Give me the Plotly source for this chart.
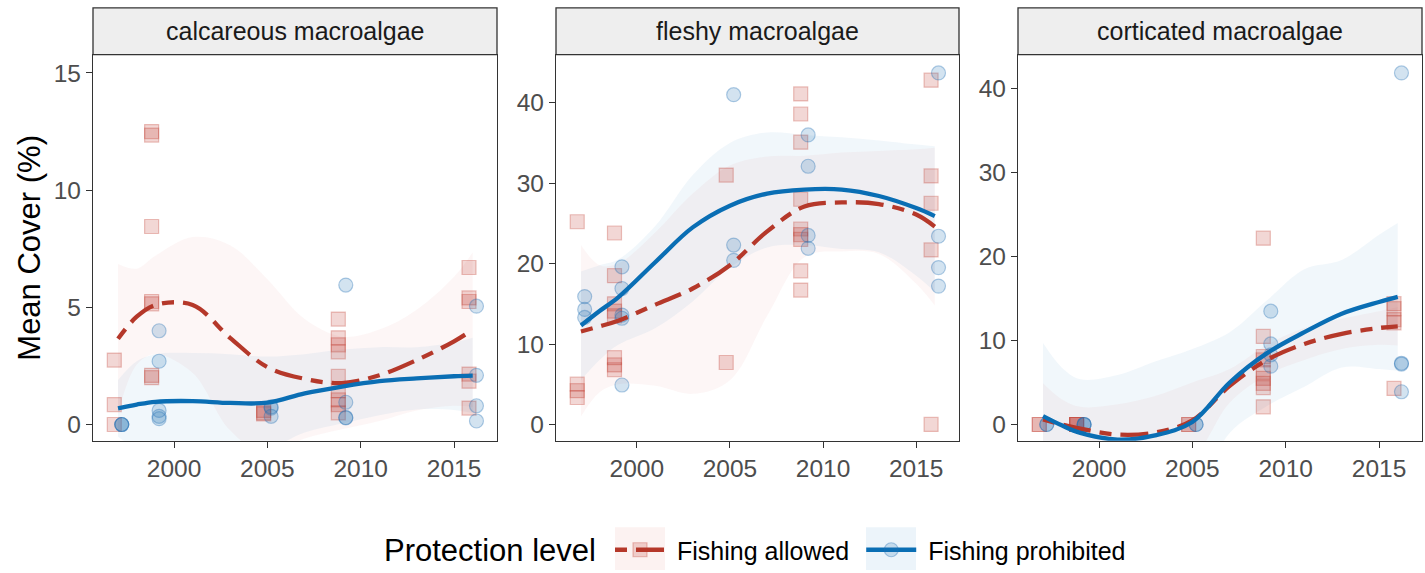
import plotly.graph_objects as go
from plotly.subplots import make_subplots

# panels and groups
panel_titles = ["calcareous macroalgae", "fleshy macroalgae", "corticated macroalgae"]
groups = ["Fishing allowed", "Fishing prohibited"]
survey_years = [1997, 1999, 2005, 2009, 2016]
fit_years = [1997, 1998, 1999, 2001, 2003, 2005, 2007, 2009, 2011, 2013, 2015, 2016]

# site-level mean cover (%), one list per survey year
calc_allowed = [[2.75, 0.85, 0.0], [12.5, 12.35, 8.45, 5.25, 5.15, 2.1, 2.0], [0.6, 0.5, 0.45],
                [4.5, 3.7, 3.4, 3.1, 2.05, 1.45, 1.05, 0.85, 0.5], [6.7, 5.4, 5.25, 2.15, 1.85, 0.7]]
calc_prohib = [[0.0, 0.0, 0.0], [4.0, 2.7, 0.6, 0.35, 0.25], [0.75, 0.7, 0.35],
               [5.95, 0.95, 0.3, 0.28], [5.05, 2.1, 0.8, 0.15]]
fleshy_allowed = [[25.2, 5.0, 4.2, 3.35], [23.8, 18.5, 15.0, 14.1, 13.5, 8.3, 7.4, 6.8], [31.0, 7.7],
                  [41.1, 38.6, 35.1, 28.0, 24.3, 23.6, 23.0, 19.1, 16.7], [42.8, 30.9, 27.5, 21.7, 0.0]]
fleshy_prohib = [[15.9, 14.3, 13.3], [19.6, 16.9, 13.6, 13.2, 4.9], [41.0, 22.3, 20.4],
                 [36.0, 32.1, 23.5, 21.9], [43.7, 23.4, 19.5, 17.2]]
cort_allowed = [[0.0, 0.0], [0.0, 0.0, 0.0, 0.0], [0.0, 0.0],
                [22.2, 10.5, 8.1, 7.7, 6.2, 5.5, 4.9, 4.4, 2.1], [14.4, 13.8, 12.5, 12.1, 4.3]]
cort_prohib = [[0.0, 0.0], [0.0, 0.0, 0.0], [0.0, 0.0],
               [13.5, 9.6, 8.3, 6.95], [41.9, 7.3, 7.2, 3.9]]

# smoothed fits with confidence band, read at fit_years
calc_allowed_fit = [3.66, 4.6, 5.1, 5.1, 3.7, 2.45, 1.95, 1.77, 2.1, 2.75, 3.55, 4.05]
calc_allowed_lo = [0.47, 2.55, 3.0, 2.2, -0.25, -1.3, -0.6, -0.2, 0.15, 0.6, 0.8, 0.75]
calc_allowed_hi = [6.85, 6.65, 7.2, 8.0, 7.65, 6.2, 4.5, 3.75, 4.05, 4.9, 6.3, 7.35]
calc_prohib_fit = [0.69, 0.85, 0.97, 1.0, 0.92, 0.93, 1.33, 1.62, 1.85, 1.97, 2.06, 2.09]
calc_prohib_lo = [-0.52, -1.0, -1.06, -1.05, -1.16, -1.04, -0.34, 0.04, 0.4, 0.64, 0.62, 0.48]
calc_prohib_hi = [1.9, 2.7, 3.0, 3.05, 3.0, 2.9, 3.0, 3.2, 3.3, 3.3, 3.5, 3.7]

fleshy_allowed_fit = [11.56, 12.2, 12.9, 14.9, 16.9, 19.8, 24.0, 27.1, 27.6, 27.4, 26.1, 24.6]
fleshy_allowed_lo = [1.0, 4.0, 5.0, 4.8, 3.8, 5.5, 13.5, 20.8, 21.5, 21.2, 17.5, 14.8]
fleshy_allowed_hi = [22.3, 19.8, 20.0, 23.9, 28.7, 32.2, 33.3, 33.4, 33.8, 34.0, 34.2, 34.4]
fleshy_prohib_fit = [12.3, 14.1, 15.8, 20.2, 24.5, 27.2, 28.7, 29.2, 29.2, 28.4, 26.9, 25.9]
fleshy_prohib_lo = [5.5, 8.0, 9.9, 12.0, 15.3, 19.5, 22.0, 22.3, 21.8, 21.4, 18.5, 16.5]
fleshy_prohib_hi = [19.0, 19.8, 20.5, 24.7, 31.0, 35.0, 36.3, 36.0, 35.7, 35.3, 34.8, 34.6]

cort_allowed_fit = [0.6, 0.0, -0.5, -1.2, -0.95, 0.5, 4.6, 7.7, 9.6, 10.8, 11.5, 11.7]
cort_allowed_lo = [-3.7, -3.0, -3.1, -4.8, -5.3, -4.0, 2.6, 5.9, 7.7, 9.0, 9.5, 9.4]
cort_allowed_hi = [4.9, 3.0, 2.1, 2.4, 3.4, 5.0, 6.6, 9.5, 11.5, 12.6, 13.5, 14.0]
cort_prohib_fit = [1.0, -0.1, -1.0, -1.8, -1.3, 0.3, 5.0, 8.5, 11.0, 13.2, 14.6, 15.2]
cort_prohib_lo = [-7.7, -7.0, -7.4, -9.5, -10.0, -8.4, -1.0, 2.2, 4.5, 6.8, 6.6, 6.4]
cort_prohib_hi = [9.7, 6.8, 5.4, 5.9, 7.5, 9.0, 11.0, 14.8, 18.5, 19.6, 22.6, 24.0]

points = [[calc_allowed, calc_prohib], [fleshy_allowed, fleshy_prohib], [cort_allowed, cort_prohib]]
fits = [
    [(calc_allowed_fit, calc_allowed_lo, calc_allowed_hi), (calc_prohib_fit, calc_prohib_lo, calc_prohib_hi)],
    [(fleshy_allowed_fit, fleshy_allowed_lo, fleshy_allowed_hi), (fleshy_prohib_fit, fleshy_prohib_lo, fleshy_prohib_hi)],
    [(cort_allowed_fit, cort_allowed_lo, cort_allowed_hi), (cort_prohib_fit, cort_prohib_lo, cort_prohib_hi)],
]

line_colors = ["#B5382A", "#0A6EB4"]
ribbon_fill = ["rgba(225,110,100,0.06)", "rgba(70,150,205,0.075)"]
key_fill = ["rgba(225,110,100,0.09)", "rgba(70,150,205,0.1)"]
pt_fill = ["rgba(192,57,43,0.2)", "rgba(33,113,181,0.2)"]
pt_edge = ["rgba(192,57,43,0.3)", "rgba(33,113,181,0.35)"]
symbols = ["square", "circle"]
dashes = ["12px,9px,28px,9px", "solid"]
dodge = [-0.2, 0.2]
y_ranges = [[-0.69, 15.78], [-2.02, 45.97], [-1.93, 44.07]]
y_dticks = [5, 10, 10]

W, H = 1425, 573
x_doms = [[93 / W, 497 / W], [556 / W, 959 / W], [1018 / W, 1422 / W]]
y_dom = [(H - 443) / H, (H - 55) / H]
strip_top = (H - 8) / H

font = "Liberation Sans, Arial, sans-serif"
nb = "\u00a0"

fig = make_subplots(rows=1, cols=3)

for i in range(3):
    col = i + 1
    # confidence ribbons
    for g in range(2):
        fit, lo, hi = fits[i][g]
        fig.add_trace(go.Scatter(x=fit_years, y=lo, mode="lines", line=dict(width=0, shape="spline"),
                                 showlegend=False, hoverinfo="skip"), row=1, col=col)
        fig.add_trace(go.Scatter(x=fit_years, y=hi, mode="lines", line=dict(width=0, shape="spline"),
                                 fill="tonexty", fillcolor=ribbon_fill[g],
                                 showlegend=False, hoverinfo="skip"), row=1, col=col)
    # raw points, dodged by group
    for g in range(2):
        xs, ys = [], []
        for yr, vals in zip(survey_years, points[i][g]):
            xs += [yr + dodge[g]] * len(vals)
            ys += vals
        fig.add_trace(go.Scatter(x=xs, y=ys, mode="markers",
                                 marker=dict(symbol=symbols[g], size=14, color=pt_fill[g],
                                             line=dict(color=pt_edge[g], width=1.2)),
                                 showlegend=False), row=1, col=col)
    # smoothed lines
    for g in range(2):
        fit, lo, hi = fits[i][g]
        fig.add_trace(go.Scatter(x=fit_years, y=fit, mode="lines",
                                 line=dict(color=line_colors[g], width=4.3, dash=dashes[g], shape="spline"),
                                 showlegend=False), row=1, col=col)

# legend entries (padded names to match the key/text spacing)
legend_names = [nb + groups[0] + nb, nb + groups[1]]
for g in range(2):
    fig.add_trace(go.Scatter(x=[None], y=[None], mode="lines+markers", name=legend_names[g],
                             line=dict(color=line_colors[g], width=4.3, dash=dashes[g]),
                             marker=dict(symbol=symbols[g], size=14, color=pt_fill[g],
                                         line=dict(color=pt_edge[g], width=1.2))),
                  row=1, col=1)

axis_style = dict(showgrid=False, zeroline=False, showline=True, linecolor="#333333", linewidth=1.3,
                  mirror=True, ticks="outside", ticklen=6, tickwidth=1.3, tickcolor="#333333",
                  tickfont=dict(family=font, size=24.5, color="#4D4D4D"))

for i in range(3):
    n = "" if i == 0 else str(i + 1)
    fig.layout["xaxis" + n].update(domain=x_doms[i], range=[1995.66, 2017.3],
                                   tickvals=[2000, 2005, 2010, 2015], **axis_style)
    fig.layout["yaxis" + n].update(domain=y_dom, range=y_ranges[i], dtick=y_dticks[i], tick0=0,
                                   **axis_style)
    # facet strip
    fig.add_shape(type="rect", xref="paper", yref="paper",
                  x0=x_doms[i][0], x1=x_doms[i][1], y0=y_dom[1], y1=strip_top,
                  fillcolor="#EEEEEE", line=dict(color="#333333", width=1.3), layer="below")
    fig.add_annotation(text=panel_titles[i], xref="paper", yref="paper",
                       x=(x_doms[i][0] + x_doms[i][1]) / 2, y=(y_dom[1] + strip_top) / 2,
                       xanchor="center", yanchor="middle",
                       showarrow=False, font=dict(family=font, size=25, color="#1A1A1A"))

fig.add_annotation(text="Mean Cover (%)", xref="paper", yref="paper", x=30 / W, y=(y_dom[0] + y_dom[1]) / 2,
                   xanchor="center", yanchor="middle",
                   textangle=-90, showarrow=False, font=dict(family=font, size=31, color="black"))

# legend title drawn as text so that it shares the item baseline
legend_y = (H - 553) / H
fig.add_annotation(text="Protection level", xref="paper", yref="paper", x=598 / W, y=legend_y,
                   xanchor="right", yanchor="middle", showarrow=False,
                   font=dict(family=font, size=31, color="black"))

# faint key backgrounds behind the legend symbols (ribbon colours)
key_centers = [640, 891]
for g in range(2):
    fig.add_shape(type="rect", xref="paper", yref="paper",
                  x0=(key_centers[g] - 25) / W, x1=(key_centers[g] + 25) / W,
                  y0=0, y1=(H - 530) / H,
                  fillcolor=key_fill[g], line=dict(width=0), layer="below")

fig.update_layout(
    width=W, height=H,
    margin=dict(l=0, r=0, t=0, b=0),
    plot_bgcolor="white", paper_bgcolor="white",
    legend=dict(orientation="h", x=610 / W, xanchor="left", y=legend_y, yanchor="middle",
                traceorder="normal", bgcolor="rgba(0,0,0,0)",
                font=dict(family=font, size=25, color="black"), itemwidth=50),
)

fig.write_html("out.html", config={"displayModeBar": False},
               post_script=["document.body.style.margin = '0';"])
